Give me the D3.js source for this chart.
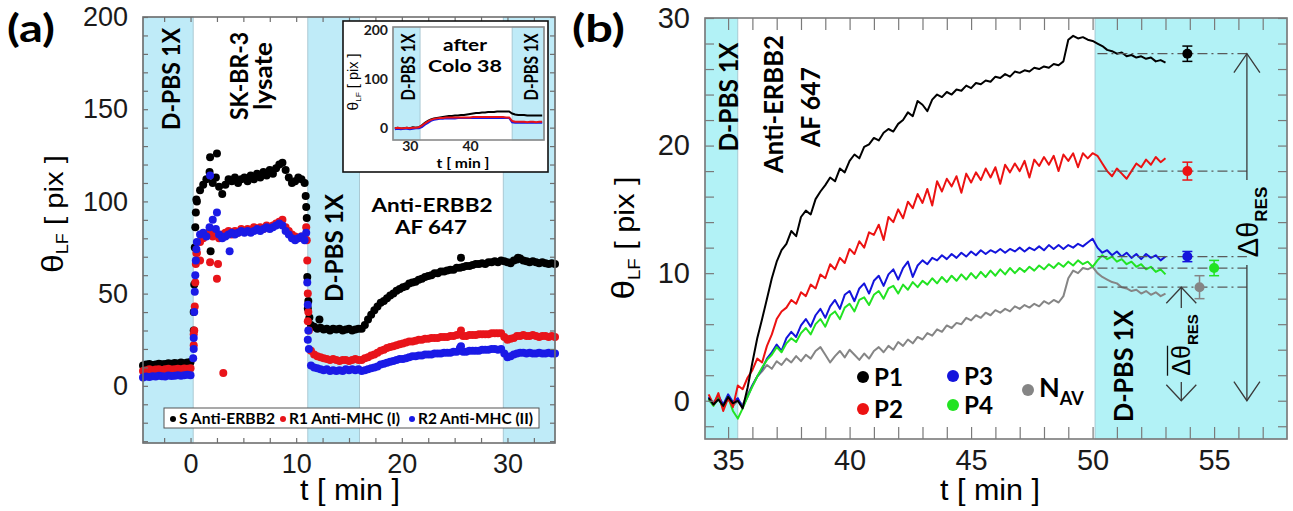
<!DOCTYPE html>
<html>
<head>
<meta charset="utf-8">
<script src="https://cdn.jsdelivr.net/npm/d3@7/dist/d3.min.js"></script>
<style>
  body { margin: 0; background: #fff; }
  text { font-family: "Liberation Sans", Arial, sans-serif; white-space: pre; }
  .lbl { font-family: Lato, "Open Sans", sans-serif; font-weight: bold; }
</style>
</head>
<body>
<svg id="fig" width="1293" height="511"></svg>
<script>
// ---------- panel (a): sensor signals, sampled every 0.3 min from -4.5 min ----------
const aStart = -4.5, aStep = 0.3
const aS = [11, 11.5, 11.8, 11.3, 11.6, 12, 11.7, 11.9, 12.3, 12, 12.4, 12.1, 12.6, 12.3, 12.7, 12.9,
  40,
  100, 106, 109, 112, 116, 110, 113, 108, 104, 109, 112, 111, 113, 110, 112, 113, 111, 114, 112, 115,
  113, 116, 114, 117, 115, 118, 120, 121, 117, 113, 110, 111, 113, 112, 110,
  42, 33,
  32, 31, 31.5, 30.5, 31, 30, 31, 30.5, 31, 30, 30.5, 31, 30, 30.5, 31,
  31, 33, 36, 38.5, 41, 43, 45, 46, 47.5, 49, 50, 51.5, 52.5, 53.5, 54, 55.5, 56, 56.5, 57.5, 58,
  59, 59.5, 60, 61, 61, 62, 62, 62.5, 63, 63, 64, 64, 64.5, 65, 65, 65.5, 66, 66, 66.5, 66,
  67, 67, 67.5, 67, 68,
  67.5, 67, 66.5, 68, 68.5, 69, 68, 67.5, 67, 67.5, 67, 66.5, 67, 66.5, 66, 66.5, 66]
const aR1 = [8, 8.5, 9, 8.5, 8.8, 9, 8.6, 9, 9.2, 8.8, 9, 9.3, 9, 9.4, 9.2, 9.5,
  28,
  72, 78, 80, 82, 84, 81, 83, 80, 82, 83, 84, 82, 84, 83, 85, 84, 85, 84, 86, 85,
  86, 85, 87, 86, 87, 88, 89, 90, 86, 84, 82, 81, 80, 81, 80,
  35, 19,
  17, 16, 15.5, 15, 14.5, 14, 14.5, 14, 13.5, 14, 14, 13.5, 14, 14.5, 14,
  14, 15, 15.5, 16.5, 17, 18, 19, 19.5, 20.5, 21, 21.5, 22, 22.5, 23, 23.5, 24, 24, 24.5, 25, 25,
  25.5, 25.5, 26, 26, 26, 26.5, 26.5, 26.5, 27, 27, 27.5, 28, 27, 27, 27.5, 27.5, 27.5, 28, 28, 28,
  28, 28.5, 28.5, 28.5, 28.5,
  26.5, 25, 25.5, 26, 27, 27, 27.5, 27, 27, 27.5, 27, 26.5, 27, 27, 26.5, 27, 26.5]
const aR2 = [4.5, 5, 4.8, 5.2, 5, 5.5, 5.2, 5, 5.6, 5.3, 5.5, 5.8, 5.5, 5.7, 6, 5.8,
  20,
  78, 82, 83, 81, 86, 90, 85, 82, 80, 81, 82, 83, 82, 83, 84, 83, 84, 83, 84, 85,
  84, 85, 86, 85, 86, 87, 88, 87, 84, 82, 80, 79, 80, 81, 79,
  25, 11,
  10, 9.5, 9, 8.5, 9, 8, 8.5, 8, 8.5, 8, 9, 8.5, 9, 8.5, 9,
  8, 8.5, 9, 9.5, 10, 10.5, 11.5, 12, 12.5, 13, 13.5, 14, 14.5, 14.5, 15, 15.5, 16, 16, 16.5, 16.5,
  17, 17, 17, 17.5, 17.5, 17.5, 18, 18, 18, 18.5, 18.5, 20.5, 18.5, 18.5, 19, 19, 19, 19, 19.5, 19.5,
  19.5, 20, 20, 19.5, 20,
  17.5, 15.5, 16, 17, 17.5, 18, 18, 17.5, 18, 17.5, 17.5, 18, 17.5, 17.5, 18, 17.5, 17.5]
// fast samples around the buffer switches and stray points: [t, value]
const aS_extra = [[0.3, 30], [0.35, 55], [0.4, 75], [0.45, 86], [0.5, 94], [0.55, 101], [1.85, 124], [2.5, 126],
  [1.9, 73], [10.9, 103], [10.95, 97], [11.0, 91], [11.05, 59], [11.15, 46], [11.25, 37], [12.2, 36], [25.6, 69.5], [31, 69.5]]
const aR1_extra = [[0.3, 22], [0.35, 30], [0.4, 43], [0.45, 56], [0.5, 66], [0.55, 72], [0.9, 68], [1.85, 67], [2.6, 66],
  [2.5, 58], [3.1, 7], [10.95, 86], [11.0, 79], [11.05, 68], [11.1, 50], [11.15, 40], [11.2, 30], [25.6, 30]]
const aR2_extra = [[0.25, 15], [0.3, 26], [0.35, 40], [0.4, 51], [0.45, 60], [0.5, 68], [0.55, 74], [1.85, 114], [2.5, 94],
  [3.7, 73], [10.95, 83], [11.05, 56], [11.1, 44], [11.15, 30], [11.2, 20], [25.6, 21.5]]
const aBands = [[-4.5, 0.25], [11.1, 16.0], [29.6, 34.5]]
const aLegend = ['S Anti-ERBB2', 'R1 Anti-MHC (I)', 'R2 Anti-MHC (II)']

// inset of (a): every 0.5 min from 27.5 min
const inStart = 27.5, inStep = 0.5
const inS = [0, 1, -1, 0, 1, 0, 2, 1, 2, 6, 11, 15, 18, 20, 21, 22, 23, 24, 25,
  25, 26, 26, 27, 27, 28, 29, 30, 31, 31, 32, 32, 33, 33, 33, 34, 34, 34, 34, 34,
  30, 28, 27, 27, 27, 26, 26, 26, 26, 26, 26]
const inR1 = [0, 1, 0, 0, 1, 0, 1, 1, 2, 5, 10, 14, 17, 19, 20, 21, 21, 22, 22,
  22, 22, 22, 22, 22, 22, 22, 23, 23, 23, 23, 23, 23, 23, 23, 23, 23, 23, 22, 22,
  15, 13, 13, 13, 13, 12, 13, 13, 12, 13, 13]
const inR2 = [-2, -1, -2, -1, -1, -2, -1, 0, 0, 2, 7, 11, 15, 17, 18, 19, 19, 20, 20,
  20, 20, 21, 21, 21, 21, 21, 21, 21, 21, 21, 21, 21, 21, 21, 21, 21, 21, 21, 21,
  12, 11, 11, 11, 11, 11, 11, 11, 11, 11, 11]
const inBands = [[27.2, 31.7], [47.0, 52.3]]

// ---------- panel (b): every 0.2 min from 34.2 min ----------
const bStart = 34.2, bStep = 0.2
const bP1 = [0.2, -0.3, 0.1, -0.4, 0.3, -0.2, 0.0, -0.6, 1.0, 3.0,
  4.9, 6.4, 8.0, 9.6, 10.9, 11.8, 12.3, 13.3, 12.9, 14.4,
  14.9, 14.6, 15.8, 16.4, 16.9, 17.5, 17.2, 18.2, 17.9, 18.8,
  19.3, 19.0, 19.9, 20.1, 20.6, 20.4, 21.0, 21.3, 21.1, 21.7,
  22.0, 22.6, 22.3, 23.5, 23.2, 22.7, 23.6, 24.0, 23.8, 24.2,
  24.0, 24.4, 24.3, 24.7, 24.5, 24.9, 24.8, 25.1, 25.0, 25.4,
  25.3, 25.6, 25.4, 25.8, 25.7, 25.9, 25.8, 26.1, 26.0, 26.2,
  26.1, 26.4, 26.3, 26.6, 28.3, 28.6, 28.4, 28.5, 28.3, 28.2,
  28.0, 27.8, 27.5, 27.4, 27.2, 27.3, 27.0, 27.1, 26.9, 27.0,
  26.8, 26.9, 26.6, 26.7, 26.5]
const bP2 = [0.5, -0.3, 0.6, -0.8, 0.2, -0.5, 1.2, 0.9, 1.8, 2.4,
  3.3, 3.0, 4.3, 5.2, 6.4, 7.0, 7.3, 7.9, 7.6, 8.5,
  8.2, 9.1, 8.8, 9.9, 9.6, 10.7, 10.3, 11.2, 10.8, 11.9,
  11.5, 12.5, 12.0, 13.2, 13.0, 13.8, 12.6, 14.4, 14.0, 15.0,
  14.3, 15.6, 15.1, 16.2, 15.5, 16.6, 15.3, 17.2, 16.4, 17.4,
  16.8, 17.6, 16.3, 17.8, 17.1, 17.9, 17.3, 18.2, 17.5, 18.3,
  17.0, 18.5, 17.9, 18.6, 18.0, 18.8, 17.5, 18.9, 18.4, 19.1,
  18.5, 19.2, 18.0, 19.3, 18.8, 19.4, 18.3, 19.4, 19.0, 19.4,
  19.2, 18.6, 18.0, 17.6, 18.2, 17.8, 17.4, 18.0, 18.6, 18.3,
  18.9, 18.5, 19.1, 18.7, 19.0]
const bP3 = [0.3, -0.2, 0.4, -0.3, 0.5, -0.1, 0.2, -0.5, 0.3, 1.2,
  1.9, 2.5, 3.3, 3.8, 4.4, 3.9, 4.9, 5.4, 5.0, 5.9,
  6.4, 5.8, 6.7, 7.2, 6.5, 7.4, 7.9, 7.2, 8.3, 8.6,
  7.8, 8.8, 9.2, 8.4, 9.4, 9.8, 9.0, 9.9, 10.3, 9.5,
  10.4, 10.9, 9.7, 10.6, 11.0, 10.7, 11.2, 11.0, 11.4, 11.1,
  11.5, 11.2, 11.6, 11.3, 11.7, 11.4, 11.8, 11.5, 11.8, 11.6,
  11.9, 11.6, 11.9, 11.7, 12.0, 11.7, 12.0, 11.8, 12.1, 11.8,
  12.2, 11.9, 12.2, 11.9, 12.2, 12.0, 12.3, 12.1, 12.4, 12.7,
  12.0, 11.6, 11.8, 11.4, 11.7, 11.3, 11.6, 11.2, 11.5, 11.1,
  11.5, 11.2, 11.4, 11.0, 11.3]
const bP4 = [0.1, -0.4, 0.2, -0.6, 0.3, -0.8, -1.4, -0.6, 0.3, 1.1,
  1.9, 2.6, 3.2, 3.6, 4.2, 3.8, 4.5, 4.9, 4.6, 5.3,
  5.7, 5.2, 6.0, 6.4, 5.8, 6.7, 7.0, 6.4, 7.3, 7.6,
  7.0, 7.9, 8.1, 7.5, 8.3, 8.6, 8.0, 8.8, 9.0, 8.4,
  9.1, 8.7, 9.3, 8.9, 9.4, 9.1, 9.6, 9.2, 9.7, 9.3,
  9.8, 9.4, 9.9, 9.5, 10.0, 9.6, 10.1, 9.7, 10.2, 9.8,
  10.3, 9.9, 10.4, 10.0, 10.4, 10.1, 10.5, 10.2, 10.6, 10.3,
  10.7, 10.4, 10.8, 10.5, 10.9, 10.6, 11.0, 10.7, 10.9, 10.5,
  11.0, 11.4, 11.1, 11.3, 10.9, 11.1, 10.7, 10.9, 10.5, 10.7,
  10.3, 10.5, 10.1, 10.3, 9.9]
const bNav = [0.0, -0.2, 0.2, -0.3, 0.1, -0.4, 0.0, -0.3, 0.5, 1.2,
  1.9, 2.3, 2.8, 2.5, 3.1, 2.8, 3.3, 3.0, 3.5, 3.1,
  3.6, 3.3, 3.9, 4.2, 3.6, 3.0, 3.5, 3.9, 3.4, 4.0,
  3.6, 3.2, 3.7, 3.3, 3.9, 4.2, 3.8, 4.3, 4.0, 4.6,
  4.3, 4.8, 4.5, 5.0, 4.8, 5.3, 5.1, 5.6, 5.4, 5.9,
  5.7, 6.1, 6.0, 6.5, 6.3, 6.7, 6.5, 6.9, 6.7, 7.1,
  6.9, 7.2, 7.0, 7.4, 7.2, 7.5, 7.3, 7.6, 7.4, 7.8,
  7.6, 7.9, 7.7, 8.2, 9.6, 10.2, 10.0, 10.4, 10.3, 10.5,
  10.0, 9.7, 9.5, 9.3, 9.2, 8.9, 8.8, 8.6, 8.7, 8.4,
  8.6, 8.3, 8.5, 8.2, 8.4]
const bNames = ['P1', 'P2', 'P3', 'P4', 'N']
const bColors = ['#000000', '#ec1212', '#1414dc', '#22e322', '#858585']
// residual signal after washing: mean and error
const resT = [53.9, 53.9, 53.9, 55.0, 54.4]
const resV = [27.2, 18.0, 11.3, 10.4, 8.9]
const resErr = [0.6, 0.7, 0.4, 0.6, 0.9]
const bBands = [[34.05, 35.4], [50.1, 58]]

const svg = d3.select('#fig')

function bands(g, x, y, list, fill) {
  g.selectAll(null).data(list).join('rect')
    .attr('x', d => x(d[0])).attr('width', d => x(d[1]) - x(d[0]))
    .attr('y', y.range()[1]).attr('height', y.range()[0] - y.range()[1])
    .attr('fill', fill).attr('stroke', '#9fbfca').attr('stroke-width', 0.8)
}

function frame(g, x, y, o) {
  const [x0, x1] = x.range(), [y0, y1] = y.range()
  const tx = o.xMajor.concat(o.xMinor), ty = o.yMajor.concat(o.yMinor)
  const mk = ax => ax.tickFormat('').tickSizeOuter(0)
  g.append('g').attr('transform', `translate(0,${y0})`).call(mk(d3.axisBottom(x).tickValues(tx).tickSizeInner(-o.xLen)))
  g.append('g').attr('transform', `translate(0,${y1})`).call(mk(d3.axisTop(x).tickValues(tx).tickSizeInner(-o.xLen)))
  g.append('g').attr('transform', `translate(${x0},0)`).call(mk(d3.axisLeft(y).tickValues(ty).tickSizeInner(-o.yLen)))
  g.append('g').attr('transform', `translate(${x1},0)`).call(mk(d3.axisRight(y).tickValues(ty).tickSizeInner(-o.yLen)))
  g.selectAll('.domain').remove()
  g.selectAll('.tick line').attr('stroke', o.color).attr('stroke-width', 1.2)
  g.append('rect').attr('x', x0).attr('y', y1).attr('width', x1 - x0).attr('height', y0 - y1)
    .attr('fill', 'none').attr('stroke', o.color).attr('stroke-width', 1.6)

  const lx = g.append('g').attr('transform', `translate(0,${y0})`)
    .call(d3.axisBottom(x).tickValues(o.xMajor).tickSize(0).tickPadding(o.xPad))
  const ly = g.append('g').attr('transform', `translate(${x0},0)`)
    .call(d3.axisLeft(y).tickValues(o.yMajor).tickSize(0).tickPadding(o.yPad))
  ;[lx, ly].forEach(a => {
    a.select('.domain').remove()
    a.selectAll('text').attr('font-size', o.size).attr('fill', '#1a1a1a')
    if (o.bold) a.selectAll('text').attr('class', 'lbl')
  })
}

function vlabel(g, txt, bx, cy, size, len) {
  return g.append('text').attr('class', 'lbl')
    .attr('transform', `translate(${bx},${cy}) rotate(-90)`)
    .attr('text-anchor', 'middle').attr('font-size', size)
    .attr('textLength', len).attr('lengthAdjust', 'spacingAndGlyphs').text(txt)
}

function hlabel(g, txt, cx, by, size, len, anchor) {
  const t = g.append('text').attr('class', 'lbl').attr('x', cx).attr('y', by)
    .attr('text-anchor', anchor || 'middle').attr('font-size', size).text(txt)
  if (len) t.attr('textLength', len).attr('lengthAdjust', 'spacingAndGlyphs')
  return t
}

function thetaLabel(g, bx, cy, sizes, len, cls) {
  const t = g.append('text').attr('transform', `translate(${bx},${cy}) rotate(-90)`)
    .attr('text-anchor', 'middle').attr('font-size', sizes[2])
    .attr('textLength', len).attr('lengthAdjust', 'spacingAndGlyphs')
  if (cls) t.attr('class', cls)
  t.append('tspan').attr('font-size', sizes[0]).text('θ')
  t.append('tspan').attr('font-size', sizes[1]).attr('dy', sizes[3]).text('LF')
  t.append('tspan').attr('dy', -sizes[3]).text(' [ pix ]')
}

// =============== panel (a) ===============
const ga = svg.append('g')
const xa = d3.scaleLinear().domain([-4.5, 34.5]).range([143, 555])
const ya = d3.scaleLinear().domain([-31, 200]).range([443, 17])
bands(ga, xa, ya, aBands, '#bfebf8')

const aSeries = [
  {vals: aS, extra: aS_extra, color: '#000'},
  {vals: aR1, extra: aR1_extra, color: '#e8141a'},
  {vals: aR2, extra: aR2_extra, color: '#1a1ae6'}
]
aSeries.forEach(s => {
  const pts = s.vals.map((v, i) => [aStart + i * aStep, v]).concat(s.extra)
  ga.append('g').selectAll('circle').data(pts).join('circle')
    .attr('cx', d => xa(d[0])).attr('cy', d => ya(d[1])).attr('r', 4).attr('fill', s.color)
})

frame(ga, xa, ya, {
  xMajor: [0, 10, 20, 30], xMinor: [-2.5, 2.5, 5, 7.5, 12.5, 15, 17.5, 22.5, 25, 27.5, 32.5],
  yMajor: [0, 50, 100, 150, 200], yMinor: [-30, -20, -10, 10, 20, 30, 40, 60, 70, 80, 90, 110, 120, 130, 140, 160, 170, 180, 190],
  xLen: 5, yLen: 5, color: '#6f6f6f', xPad: 11, yPad: 15, size: 27
})

vlabel(ga, 'D-PBS 1X', 180, 79, 25, 102)
vlabel(ga, 'SK-BR-3', 248, 76, 25, 88)
vlabel(ga, 'lysate', 272, 76, 25, 68)
vlabel(ga, 'D-PBS 1X', 343, 248, 25, 108)
hlabel(ga, 'Anti-ERBB2', 432, 212, 19, 121)
hlabel(ga, 'AF 647', 431, 234, 19, 72)
hlabel(ga, '(a)', 7, 42, 38, 48, 'start')
thetaLabel(ga, 63, 214, [30, 16, 26, 5], 118)
ga.append('text').attr('x', 350).attr('y', 500).attr('text-anchor', 'middle').attr('font-size', 29)
  .attr('textLength', 100).attr('lengthAdjust', 'spacingAndGlyphs').text('t [ min ]')

// legend of (a)
const lg = ga.append('g')
lg.append('rect').attr('x', 164).attr('y', 408).attr('width', 375).attr('height', 20)
  .attr('fill', '#fff').attr('stroke', '#555').attr('stroke-width', 1)
const legX = [173, 283, 412], legLen = [96, 111, 115]
aLegend.forEach((txt, i) => {
  lg.append('circle').attr('cx', legX[i]).attr('cy', 419).attr('r', 3).attr('fill', aSeries[i].color)
  hlabel(lg, txt, legX[i] + 6, 424, 16, legLen[i], 'start')
})

// inset
const gi = ga.append('g')
gi.append('rect').attr('x', 343).attr('y', 21).attr('width', 205).attr('height', 151)
  .attr('fill', '#fff').attr('stroke', '#111').attr('stroke-width', 1.6)
const xi = d3.scaleLinear().domain([27.2, 52.3]).range([393, 544])
const yi = d3.scaleLinear().domain([-24, 206]).range([140, 27])
bands(gi, xi, yi, inBands, '#bfebf8')
const lineI = d3.line().x((d, i) => xi(inStart + i * inStep)).y(d => yi(d))
;[[inS, '#000'], [inR2, '#1a1ae6'], [inR1, '#e8141a']].forEach(([vals, c]) => {
  gi.append('path').datum(vals).attr('d', lineI).attr('fill', 'none').attr('stroke', c).attr('stroke-width', 2)
})
frame(gi, xi, yi, {
  xMajor: [30, 40], xMinor: [], yMajor: [0, 100, 200], yMinor: [],
  xLen: 0, yLen: 0, color: '#8a8a8a', xPad: 1, yPad: 5, size: 14, bold: true
})
vlabel(gi, 'D-PBS 1X', 415, 67, 18, 67)
vlabel(gi, 'D-PBS 1X', 538, 67, 18, 67)
hlabel(gi, 'after', 465, 51, 17, 44)
hlabel(gi, 'Colo 38', 465, 72, 17, 74)
hlabel(gi, 't [ min ]', 463, 168, 13, 53)
thetaLabel(gi, 358, 82, [15, 8, 14, 3], 57)

// =============== panel (b) ===============
const gb = svg.append('g')
const xb = d3.scaleLinear().domain([34.05, 58]).range([705, 1287])
const yb = d3.scaleLinear().domain([-3, 30]).range([439, 18])
bands(gb, xb, yb, bBands, '#b2f2f6')

const lineB = d3.line().x((d, i) => xb(bStart + i * bStep)).y(d => yb(d))
const bSeries = [bP1, bP2, bP3, bP4, bNav]
;[4, 2, 3, 1, 0].forEach(k => {
  gb.append('path').datum(bSeries[k]).attr('d', lineB).attr('fill', 'none')
    .attr('stroke', bColors[k]).attr('stroke-width', 2).attr('stroke-linejoin', 'round')
})

// residual levels: dash-dot guides, mean and error bars
const guideFrom = 50.2, guideTo = 56.35
resV.forEach((v, k) => {
  gb.append('line').attr('x1', xb(guideFrom)).attr('x2', xb(guideTo)).attr('y1', yb(v)).attr('y2', yb(v))
    .attr('stroke', '#5a5a5a').attr('stroke-width', 1.2).attr('stroke-dasharray', '10,4,2,4')
})
resV.forEach((v, k) => {
  const x = xb(resT[k]), c = bColors[k]
  gb.append('line').attr('x1', x).attr('x2', x).attr('y1', yb(v - resErr[k])).attr('y2', yb(v + resErr[k]))
    .attr('stroke', c).attr('stroke-width', 1.5)
  ;[v - resErr[k], v + resErr[k]].forEach(e => gb.append('line').attr('x1', x - 5).attr('x2', x + 5)
    .attr('y1', yb(e)).attr('y2', yb(e)).attr('stroke', c).attr('stroke-width', 1.5))
  gb.append('circle').attr('cx', x).attr('cy', yb(v)).attr('r', 5).attr('fill', c)
})

frame(gb, xb, yb, {
  xMajor: [35, 40, 45, 50, 55], xMinor: [36, 37, 38, 39, 41, 42, 43, 44, 46, 47, 48, 49, 51, 52, 53, 54, 56, 57],
  yMajor: [0, 10, 20, 30], yMinor: [-2, 2, 4, 6, 8, 12, 14, 16, 18, 22, 24, 26, 28],
  xLen: 12, yLen: 9, color: '#7a7a7a', xPad: 10, yPad: 15, size: 29
})

// arrows
function arrowHead(g, x, tip, dir, w, h) {
  g.append('path').attr('d', `M${x - w},${tip + dir * h}L${x},${tip}L${x + w},${tip + dir * h}`)
    .attr('fill', 'none').attr('stroke', '#3a3a3a').attr('stroke-width', 1.3)
}
function vseg(g, x, y1, y2) {
  g.append('line').attr('x1', x).attr('x2', x).attr('y1', y1).attr('y2', y2)
    .attr('stroke', '#3a3a3a').attr('stroke-width', 1.3)
}
const bigX = xb(56.35), smallX = xb(53.65)
arrowHead(gb, bigX, yb(resV[0]), 1, 13, 19)
arrowHead(gb, bigX, yb(0), -1, 13, 19)
vseg(gb, bigX, yb(resV[0]), 180)
vseg(gb, bigX, 265, yb(0))
arrowHead(gb, smallX, yb(resV[4]), 1, 15, 16)
arrowHead(gb, smallX, yb(0), -1, 15, 16)
vseg(gb, smallX, yb(resV[4]), 308)
vseg(gb, smallX, 382, yb(0))

function deltaLabel(g, bx, cy, s1, s2, sub, bar) {
  const gg = g.append('g').attr('transform', `translate(${bx},${cy}) rotate(-90)`)
  const t = gg.append('text').attr('text-anchor', 'middle').attr('font-size', s1)
  t.append('tspan').text('Δθ')
  t.append('tspan').attr('font-size', s2).attr('font-weight', 'bold').attr('dy', sub).text('RES')
  if (bar) {
    const w = t.node().getComputedTextLength()
    const wm = w * 0.5
    gg.append('line').attr('x1', -wm).attr('x2', -wm + bar).attr('y1', -s1 * 0.9).attr('y2', -s1 * 0.9)
      .attr('stroke', '#111').attr('stroke-width', 1.3)
  }
}
deltaLabel(gb, 1258, 222, 29, 17, 9)
deltaLabel(gb, 1190, 345, 25, 15, 8, 30)

vlabel(gb, 'D-PBS 1X', 738, 97, 26, 109)
vlabel(gb, 'Anti-ERBB2', 783, 104, 26, 138)
vlabel(gb, 'AF 647', 820, 107, 26, 80)
vlabel(gb, 'D-PBS 1X', 1133, 366, 27, 112)
hlabel(gb, '(b)', 572, 42, 38, 53, 'start')
thetaLabel(gb, 634, 238, [32, 17, 28, 6], 123)
gb.append('text').attr('x', 990).attr('y', 500).attr('text-anchor', 'middle').attr('font-size', 29)
  .attr('textLength', 100).attr('lengthAdjust', 'spacingAndGlyphs').text('t [ min ]')

// legend of (b)
const legPos = [[863, 377], [863, 409], [953, 376], [953, 405], [1028, 390]]
bNames.forEach((n, k) => {
  const [cx, cy] = legPos[k]
  gb.append('circle').attr('cx', cx).attr('cy', cy).attr('r', 6).attr('fill', bColors[k])
  if (k < 4) {
    hlabel(gb, n, cx + 11, cy + 9, 24, 29, 'start')
  } else {
    const t = gb.append('text').attr('class', 'lbl').attr('x', cx + 11).attr('y', cy + 7).attr('font-size', 27)
    t.append('tspan').text(n)
    t.append('tspan').attr('font-size', 18).attr('dy', 8).text('AV')
  }
})
</script>
</body>
</html>
